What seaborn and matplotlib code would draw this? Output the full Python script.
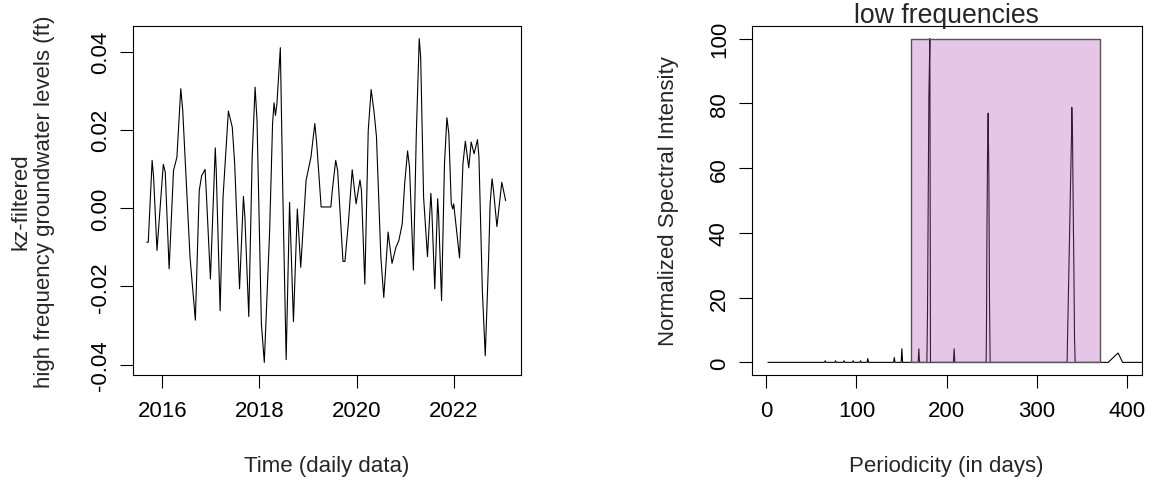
import matplotlib
matplotlib.use("Agg")
import matplotlib.pyplot as plt
import seaborn as sns

# kz-filtered series (decimal year, ft)
years = [2015.68, 2015.71, 2015.79, 2015.82, 2015.89, 2016.02, 2016.06, 2016.14, 2016.23, 2016.30,
         2016.38, 2016.42, 2016.57, 2016.68, 2016.76, 2016.81, 2016.88, 2016.91, 2016.99, 2017.09,
         2017.11, 2017.19, 2017.25, 2017.36, 2017.44, 2017.49, 2017.59, 2017.67, 2017.70, 2017.78,
         2017.85, 2017.91, 2017.95, 2018.04, 2018.10, 2018.21, 2018.27, 2018.30, 2018.33, 2018.36,
         2018.43, 2018.48, 2018.55, 2018.62, 2018.70, 2018.78, 2018.85, 2018.96, 2019.06, 2019.14,
         2019.18, 2019.27, 2019.33, 2019.47, 2019.50, 2019.57, 2019.61, 2019.72, 2019.76, 2019.83,
         2019.91, 2019.95, 2019.99, 2020.07, 2020.10, 2020.17, 2020.24, 2020.30, 2020.36, 2020.41,
         2020.50, 2020.56, 2020.65, 2020.67, 2020.73, 2020.81, 2020.87, 2020.94, 2020.99, 2021.05,
         2021.09, 2021.17, 2021.23, 2021.29, 2021.32, 2021.38, 2021.46, 2021.53, 2021.55, 2021.61,
         2021.67, 2021.69, 2021.75, 2021.81, 2021.86, 2021.90, 2021.95, 2021.98, 2022.00, 2022.12,
         2022.19, 2022.24, 2022.31, 2022.36, 2022.42, 2022.49, 2022.52, 2022.59, 2022.65, 2022.72,
         2022.75, 2022.79, 2022.82, 2022.89, 2022.99, 2023.07]
levels = [-0.0087, -0.0087, 0.0122, 0.0079, -0.0108, 0.0112, 0.0092, -0.0155, 0.0096, 0.0130,
          0.0305, 0.0250, -0.0125, -0.0286, 0.0045, 0.0083, 0.0099, 0.0028, -0.0181, 0.0154,
          0.0096, -0.0262, 0.0028, 0.0248, 0.0207, 0.0113, -0.0206, 0.0030, -0.0023, -0.0277,
          0.0130, 0.0309, 0.0224, -0.0296, -0.0394, -0.0057, 0.0216, 0.0269, 0.0237, 0.0267,
          0.0410, 0.0045, -0.0387, 0.0015, -0.0290, -0.0002, -0.0151, 0.0071, 0.0130, 0.0216,
          0.0164, 0.0003, 0.0003, 0.0003, 0.0045, 0.0122, 0.0096, -0.0136, -0.0136, -0.0040,
          0.0098, 0.0054, 0.0011, 0.0072, 0.0045, -0.0194, 0.0198, 0.0303, 0.0246, 0.0182,
          -0.0125, -0.0228, -0.0061, -0.0083, -0.0141, -0.0100, -0.0083, -0.0040, 0.0062, 0.0146,
          0.0105, -0.0158, 0.0190, 0.0433, 0.0386, 0.0028, -0.0124, 0.0038, -0.0006, -0.0206,
          0.0024, -0.0019, -0.0236, 0.0113, 0.0231, 0.0190, 0.0011, -0.0002, 0.0011, -0.0127,
          0.0113, 0.0171, 0.0103, 0.0169, 0.0139, 0.0175, 0.0130, -0.0211, -0.0377, -0.0125,
          0.0011, 0.0075, 0.0045, -0.0047, 0.0066, 0.0019]

# spectrum vs periodicity (days)
period = [2, 64.6, 65.4, 66.2, 76.1, 76.9, 77.7, 85.6, 86.4, 87.2, 95.6, 96.4, 97.2,
          103.8, 104.6, 105.4, 111.8, 112.6, 113.4, 141.2, 142.0, 142.8, 149.6, 150.4, 151.2,
          168.4, 169.2, 170.0, 178.1, 178.8, 179.5, 180.3, 181.4, 182.1, 207.5, 208.3, 209.1,
          243.8, 244.2, 244.6, 245.3, 246.0, 246.8, 247.5, 248.2,
          333.5, 334.0, 335.1, 336.2, 337.3, 338.4, 338.7, 339.5, 340.2, 341.0, 341.7, 342.4,
          379.0, 390.0, 395.0, 420.0]
intensity = [0, 0, 0.5, 0, 0, 0.5, 0, 0, 0.5, 0, 0, 0.5, 0,
             0, 0.5, 0, 0, 1.2, 0, 0, 1.5, 0, 0, 4.2, 0,
             0, 4.2, 0, 0, 15, 47, 82, 100, 0, 0, 4.2, 0,
             0, 13, 38, 64, 77, 57, 19, 0,
             0, 7.8, 23.3, 39.2, 55.2, 70.6, 78.8, 69.6, 49, 28.9, 7.8, 0,
             0, 2.9, 0, 0]

band_start, band_end, band_top = 160, 370, 100

sns.set_theme(style="white")
plt.rcParams['font.family'] = ['Liberation Sans', 'DejaVu Sans']
plt.rcParams['axes.unicode_minus'] = False

fig = plt.figure(figsize=(11.51, 4.85), dpi=100)
ax1 = fig.add_axes([0.1153, 0.2241, 0.3371, 0.7208])
ax2 = fig.add_axes([0.6531, 0.2241, 0.3387, 0.7208])

sns.lineplot(x=years, y=levels, ax=ax1, color='black', linewidth=0.8,
             estimator=None, sort=False)
ax1.set_xlim(2015.39, 2023.38)
ax1.set_ylim(-0.0427, 0.0466)
ax1.set_xticks([2016, 2018, 2020, 2022])
ax1.set_xticklabels(['2016', '2018', '2020', '2022'])
ax1.set_yticks([-0.04, -0.02, 0, 0.02, 0.04])
ax1.set_yticklabels(['-0.04', '-0.02', '0.00', '0.02', '0.04'], rotation=90, va='center')
ax1.set_xlabel('Time (daily data)', fontsize=16)
ax1.set_ylabel('kz-filtered\nhigh frequency groundwater levels (ft)', fontsize=16)
ax1.xaxis.set_label_coords(0.5, -0.2566)
ax1.yaxis.set_label_coords(-0.258, 0.5)

sns.lineplot(x=period, y=intensity, ax=ax2, color='black', linewidth=0.8,
             estimator=None, sort=False)
ax2.fill_between([band_start, band_end], 0, band_top, facecolor=(0.70, 0.31, 0.70, 0.32),
                 edgecolor='#555555', linewidth=1, zorder=5)
ax2.set_xlim(-16, 416)
ax2.set_ylim(-4, 104)
ax2.set_xticks([0, 100, 200, 300, 400])
ax2.set_yticks([0, 20, 40, 60, 80, 100])
ax2.set_yticklabels(['0', '20', '40', '60', '80', '100'], rotation=90, va='center')
ax2.set_xlabel('Periodicity (in days)', fontsize=16)
ax2.set_ylabel('Normalized Spectral Intensity', fontsize=16)
ax2.xaxis.set_label_coords(0.5, -0.2566)
ax2.yaxis.set_label_coords(-0.2147, 0.5)
ax2.set_title('low frequencies', fontsize=19.2, pad=3)

for ax in (ax1, ax2):
    for sp in ax.spines.values():
        sp.set_visible(True)
        sp.set_color('black')
        sp.set_linewidth(0.8)
    ax.tick_params(axis='both', bottom=True, left=True, direction='out', length=9.7,
                   width=0.8, color='black', labelsize=16, labelcolor='black')
    ax.tick_params(axis='x', pad=8)
    ax.tick_params(axis='y', pad=6)
    ax.xaxis.label.set_va('center')
    ax.yaxis.label.set_va('center')

fig.savefig('out.png', dpi=100)
